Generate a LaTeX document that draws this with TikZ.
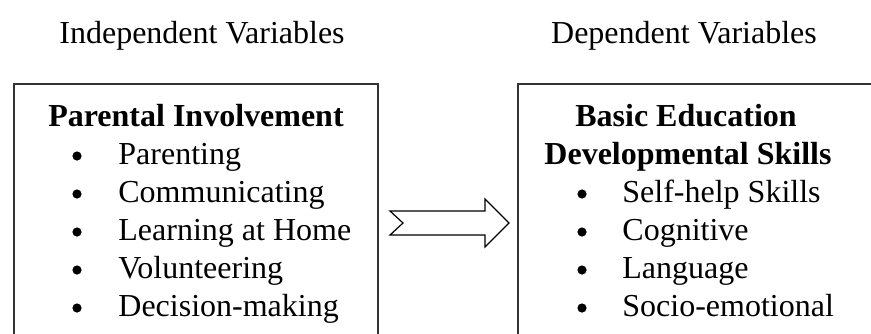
\documentclass[tikz,border=0pt]{standalone}
\usepackage{fontspec}
\setmainfont{Liberation Serif}
\usepackage{tikz}
\usetikzlibrary{calc}

\tikzset{
  txt/.style={font=\fontsize{16}{19}\selectfont, inner sep=0pt},
  header/.style={txt, anchor=base},
  boxtitle/.style={txt, anchor=base, font=\fontsize{16}{19}\selectfont\bfseries},
  dot/.style={circle, fill=black, inner sep=0pt, minimum size=4.6pt},
  entry/.style={txt, anchor=base west},
  frame/.style={line width=1pt, draw=black!80},
  blockarrow/.style={line width=0.6pt, draw=black, fill=white, line join=miter}
}

\begin{document}
\begin{tikzpicture}[x=0.5pt,y=-0.5pt]
    \useasboundingbox (0,0) rectangle (871,333);
    \clip (0,0) rectangle (871,333); % boxes run off the page

    % column headers
    \node[header] (ivhead) at (202,43) {Independent Variables};
    \node[header] (dvhead) at (684,43) {Dependent Variables};

    % the two boxes (open at the bottom)
    \draw[frame] (14,345) -- (14,84) -- (378,84) -- (378,345);
    \draw[frame] (518,345) -- (518,84) -- (885,84);

    % left box
    \node[boxtitle] (ivtitle) at (196,126) {Parental Involvement};
    \foreach \name/\label [count=\i] in {parenting/Parenting,
        communicating/Communicating,
        learning/Learning at Home,
        volunteering/Volunteering,
        decision/Decision-making}{
      \node[dot] (\name dot) at (77,118+38*\i) {};
      \node[entry] (\name) at (118,126+38*\i) {\label};
    }

    % right box
    \node[boxtitle] (dvtitle) at (686,126) {Basic Education};
    \node[boxtitle] (dvtitlee) at (688,164) {Developmental Skills};
    \foreach \name/\label [count=\i] in {selfhelp/Self-help Skills,
        cognitive/Cognitive,
        language/Language,
        socio/Socio-emotional}{
      \node[dot] (\name dot) at (582,156+38*\i) {};
      \node[entry] (\name) at (622,164+38*\i) {\label};
    }

    % notched block arrow between the boxes
    \draw[blockarrow] (390,211) -- (485,211) -- (485,199) -- (509,223)
        -- (485,247) -- (485,235) -- (390,235) -- (403,223) -- cycle;
\end{tikzpicture}
\end{document}
